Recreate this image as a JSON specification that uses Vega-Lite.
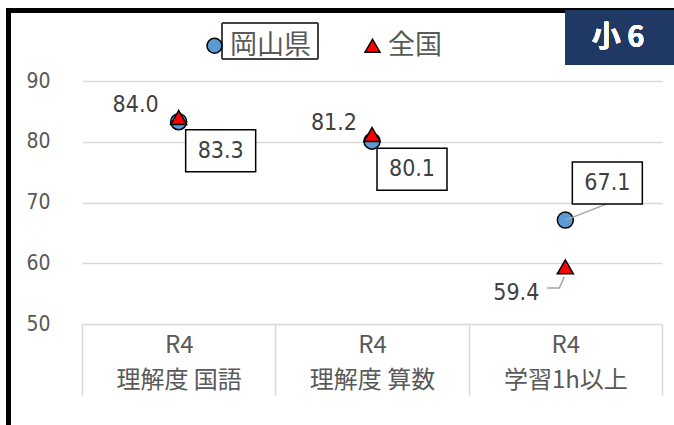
{
  "$schema": "https://vega.github.io/schema/vega-lite/v6.json",
  "autosize": "none",
  "width": 580,
  "height": 243,
  "padding": {"left": 82, "top": 81, "right": 12, "bottom": 101},
  "background": "white",
  "config": {"view": {"stroke": null}},
  "data": {
    "values": [
      {"cat": "R4 理解度 国語", "series": "岡山県", "value": 83.3},
      {"cat": "R4 理解度 算数", "series": "岡山県", "value": 80.1},
      {"cat": "R4 学習1h以上", "series": "岡山県", "value": 67.1},
      {"cat": "R4 理解度 国語", "series": "全国", "value": 84.0},
      {"cat": "R4 理解度 算数", "series": "全国", "value": 81.2},
      {"cat": "R4 学習1h以上", "series": "全国", "value": 59.4}
    ]
  },
  "encoding": {
    "x": {
      "field": "cat", "type": "nominal", "sort": null,
      "scale": {"paddingInner": 0, "paddingOuter": 0},
      "axis": {
        "title": null, "labelAngle": 0, "domain": false,
        "tickBand": "extent", "tickSize": 71, "tickColor": "#d9d9d9", "tickWidth": 1.5,
        "labelExpr": "[slice(datum.label,0,2), slice(datum.label,3)]",
        "labelFont": "Noto Sans CJK JP", "labelFontSize": 24, "labelColor": "#595959",
        "labelLineHeight": 35, "labelPadding": -62
      }
    },
    "y": {
      "field": "value", "type": "quantitative",
      "scale": {"domain": [50, 90], "nice": false, "zero": false},
      "axis": {
        "title": null, "values": [50, 60, 70, 80, 90], "domain": false, "ticks": false,
        "gridColor": "#d9d9d9", "gridWidth": 1.5,
        "labelFont": "Liberation Sans Narrow, DejaVu Sans Condensed, sans-serif",
        "labelFontSize": 21, "labelColor": "#595959", "labelPadding": 32
      }
    }
  },
  "layer": [
    {
      "mark": {"type": "rule"},
      "encoding": {"x": {"value": -73.7}, "y": {"value": -72.5}, "y2": {"value": 344}, "color": {"value": "black"}, "strokeWidth": {"value": 4.5}}
    },
    {
      "mark": {"type": "rule"},
      "encoding": {"x": {"value": -76}, "x2": {"value": 592}, "y": {"value": -70.5}, "color": {"value": "black"}, "strokeWidth": {"value": 4}}
    },
    {
      "mark": {"type": "rect", "color": "#203864"},
      "encoding": {"x": {"value": 483}, "x2": {"value": 592}, "y": {"value": -71}, "y2": {"value": -16}}
    },
    {
      "mark": {"type": "text", "text": "小 6", "font": "Noto Sans CJK JP", "fontWeight": "bold", "fontSize": 29, "color": "white", "align": "center", "baseline": "middle"},
      "encoding": {"x": {"value": 536}, "y": {"value": -43}}
    },
    {
      "mark": {"type": "rect", "filled": false, "stroke": "#404040", "strokeWidth": 1},
      "encoding": {"x": {"value": 140}, "x2": {"value": 236}, "y": {"value": -58}, "y2": {"value": -22}}
    },
    {
      "mark": {"type": "point", "filled": true, "stroke": "black", "strokeWidth": 1.5, "size": 256, "opacity": 1},
      "encoding": {
        "color": {
          "field": "series", "type": "nominal",
          "scale": {"domain": ["岡山県", "全国"], "range": ["#5B9BD5", "#FF0000"]},
          "legend": {
            "title": null, "orient": "none", "direction": "horizontal",
            "legendX": 119, "legendY": -49,
            "labelFont": "Noto Sans CJK JP", "labelFontSize": 27, "labelColor": "#595959",
            "symbolSize": 225, "symbolStrokeColor": "black", "symbolStrokeWidth": 1.5,
            "labelOffset": 2, "columnPadding": 48
          }
        },
        "shape": {
          "field": "series", "type": "nominal",
          "scale": {"domain": ["岡山県", "全国"], "range": ["circle", "triangle-up"]}
        }
      }
    },
    {
      "transform": [{"filter": "datum.cat === 'R4 学習1h以上' && datum.series === '岡山県'"}],
      "mark": {"type": "point", "shape": "M0,0L41,-16", "size": 4, "filled": false, "stroke": "#a6a6a6", "strokeWidth": 1.5, "opacity": 1},
      "encoding": {}
    },
    {
      "transform": [{"filter": "datum.cat === 'R4 学習1h以上' && datum.series === '全国'"}],
      "mark": {"type": "point", "shape": "M-1,10L-6,21L-18,21", "size": 4, "filled": false, "stroke": "#a6a6a6", "strokeWidth": 1.5, "opacity": 1},
      "encoding": {}
    },
    {
      "transform": [{"filter": "datum.cat === 'R4 理解度 国語' && datum.series === '岡山県'"}],
      "mark": {"type": "point", "shape": "M7,8L77,8L77,50L7,50Z", "size": 4, "filled": true, "fill": "white", "stroke": "black", "strokeWidth": 1.5, "opacity": 1},
      "encoding": {}
    },
    {
      "transform": [{"filter": "datum.cat === 'R4 理解度 算数' && datum.series === '岡山県'"}],
      "mark": {"type": "point", "shape": "M5,7L75,7L75,49L5,49Z", "size": 4, "filled": true, "fill": "white", "stroke": "black", "strokeWidth": 1.5, "opacity": 1},
      "encoding": {}
    },
    {
      "transform": [{"filter": "datum.cat === 'R4 学習1h以上' && datum.series === '岡山県'"}],
      "mark": {"type": "point", "shape": "M7,-58L77,-58L77,-16L7,-16Z", "size": 4, "filled": true, "fill": "white", "stroke": "black", "strokeWidth": 1.5, "opacity": 1},
      "encoding": {}
    },
    {
      "transform": [{"filter": "datum.cat === 'R4 理解度 国語' && datum.series === '岡山県'"}],
      "mark": {"type": "text", "font": "Liberation Sans Narrow, DejaVu Sans Condensed, sans-serif", "fontSize": 23, "color": "#404040", "align": "center", "baseline": "middle", "dx": 42, "dy": 29},
      "encoding": {"text": {"field": "value", "type": "quantitative", "format": ".1f"}}
    },
    {
      "transform": [{"filter": "datum.cat === 'R4 理解度 算数' && datum.series === '岡山県'"}],
      "mark": {"type": "text", "font": "Liberation Sans Narrow, DejaVu Sans Condensed, sans-serif", "fontSize": 23, "color": "#404040", "align": "center", "baseline": "middle", "dx": 40, "dy": 28},
      "encoding": {"text": {"field": "value", "type": "quantitative", "format": ".1f"}}
    },
    {
      "transform": [{"filter": "datum.cat === 'R4 学習1h以上' && datum.series === '岡山県'"}],
      "mark": {"type": "text", "font": "Liberation Sans Narrow, DejaVu Sans Condensed, sans-serif", "fontSize": 23, "color": "#404040", "align": "center", "baseline": "middle", "dx": 42, "dy": -37},
      "encoding": {"text": {"field": "value", "type": "quantitative", "format": ".1f"}}
    },
    {
      "transform": [{"filter": "datum.cat === 'R4 理解度 国語' && datum.series === '全国'"}],
      "mark": {"type": "text", "font": "Liberation Sans Narrow, DejaVu Sans Condensed, sans-serif", "fontSize": 23, "color": "#404040", "align": "right", "baseline": "middle", "dx": -20, "dy": -12},
      "encoding": {"text": {"field": "value", "type": "quantitative", "format": ".1f"}}
    },
    {
      "transform": [{"filter": "datum.cat === 'R4 理解度 算数' && datum.series === '全国'"}],
      "mark": {"type": "text", "font": "Liberation Sans Narrow, DejaVu Sans Condensed, sans-serif", "fontSize": 23, "color": "#404040", "align": "right", "baseline": "middle", "dx": -15, "dy": -11},
      "encoding": {"text": {"field": "value", "type": "quantitative", "format": ".1f"}}
    },
    {
      "transform": [{"filter": "datum.cat === 'R4 学習1h以上' && datum.series === '全国'"}],
      "mark": {"type": "text", "font": "Liberation Sans Narrow, DejaVu Sans Condensed, sans-serif", "fontSize": 23, "color": "#404040", "align": "right", "baseline": "middle", "dx": -26, "dy": 26},
      "encoding": {"text": {"field": "value", "type": "quantitative", "format": ".1f"}}
    }
  ]
}
